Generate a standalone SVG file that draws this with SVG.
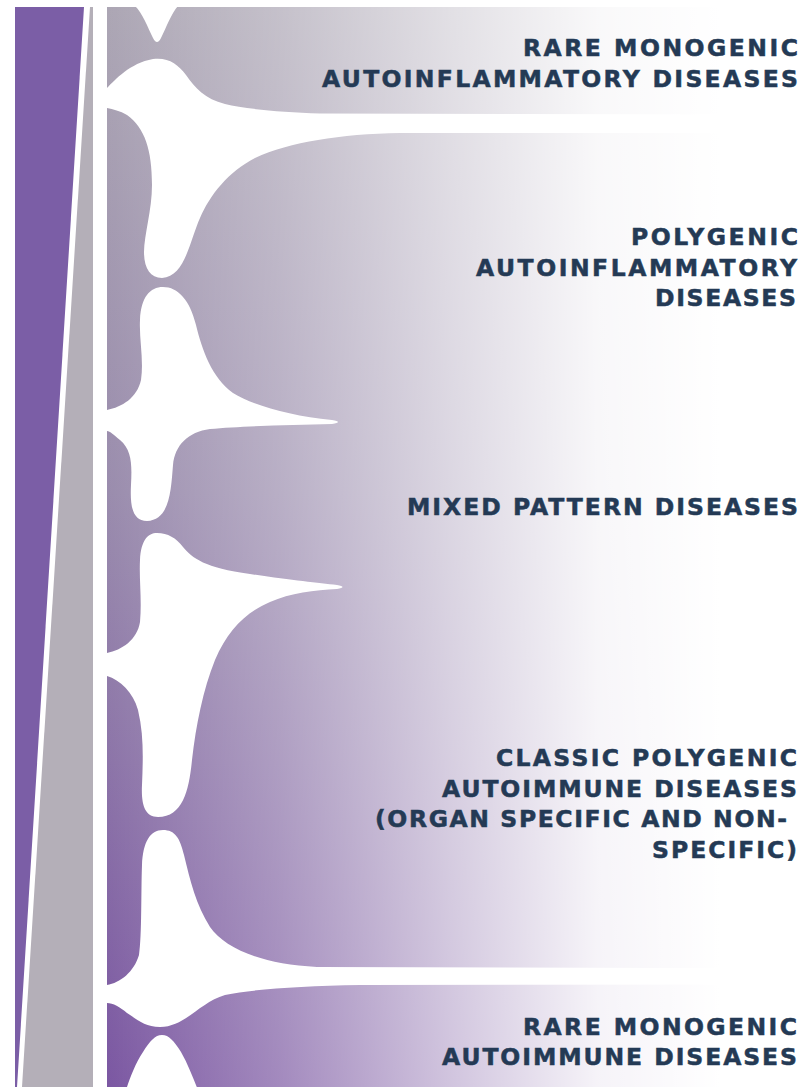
<svg xmlns="http://www.w3.org/2000/svg" width="812" height="1088" viewBox="0 0 812 1088">
<defs>
<linearGradient id="vbase" gradientUnits="userSpaceOnUse" x1="0" y1="7" x2="0" y2="1087">
<stop offset="0" stop-color="#aca6b4"/>
<stop offset="0.45" stop-color="#9a8cad"/>
<stop offset="1" stop-color="#7b57a2"/>
</linearGradient>
<linearGradient id="hfade" gradientUnits="userSpaceOnUse" x1="107" y1="0" x2="720" y2="0">
<stop offset="0" stop-color="#ffffff" stop-opacity="0"/>
<stop offset="0.28" stop-color="#ffffff" stop-opacity="0.3"/>
<stop offset="0.56" stop-color="#ffffff" stop-opacity="0.65"/>
<stop offset="0.8" stop-color="#ffffff" stop-opacity="0.93"/>
<stop offset="1" stop-color="#ffffff" stop-opacity="1"/>
</linearGradient>
<style>
.lbl{font-family:"DejaVu Sans","Liberation Sans",sans-serif;font-weight:bold;font-size:23.5px;fill:#243a55;stroke:#243a55;stroke-width:0.5px;}
.gap{fill:#ffffff;}
</style>
</defs>
<rect width="812" height="1088" fill="#ffffff"/>
<g id="scale-bars">
<polygon points="15,7 84,7 17,1087 15,1087" fill="#7b5ea6"/>
<polygon points="90,7 93,7 93,1087 22,1087" fill="#b4afb8"/>
</g>
<g id="spectrum">
<rect x="107" y="7" width="705" height="1080" fill="url(#vbase)"/>
<rect x="107" y="7" width="705" height="1080" fill="url(#hfade)"/>
<path class="gap" d="M135,6 C142,12 148,28 153,38 Q157,46 161,38 C166,28 172,12 178,6 Z"/>
<path class="gap" d="M100,88 L107,88 C115,80 130,63 153,59 C168,57 178,64 186,75 C195,88 205,99 225,104 C245,109 280,112 320,113.5 L812,114.5 L812,133 L400,133 C340,134 290,142 255,158 C228,172 210,195 200,218 C190,240 185,277 162,278 C150,278 144,268 144,252 C144,235 152,210 152,185 C152,150 145,128 127,115 C120,111 113,109 107,108 L100,108 Z"/>
<path class="gap" d="M163,287 C178,287 190,300 196,325 C202,350 212,378 233,393 C252,405 290,416 332,420 Q344,422 332,424 C290,425 240,426 210,429 C188,432 175,445 173,465 C171,490 170,520 147,521 C132,521 130,505 131,485 C132,465 132,450 120,440 C114,435 110,431 107,431 L100,431 L100,410 L107,410 C122,407 137,398 141,380 C144,360 139,340 140,320 C141,297 150,287 163,287 Z"/>
<path class="gap" d="M157,533 C168,533 176,538 183,547 C192,558 205,568 250,574 C290,580 318,583 337,585 Q348,587 337,589 C315,590 290,593 270,602 C245,613 228,630 215,660 C203,690 196,725 192,760 C189,790 183,817 158,817 C145,817 141,805 142,785 C143,760 144,735 138,710 C133,692 120,680 107,676 L100,676 L100,653 L107,653 C122,650 137,640 140,622 C142,600 139,580 140,560 C141,540 148,533 157,533 Z"/>
<path class="gap" d="M163,830 C175,830 180,838 184,855 C190,880 196,905 210,927 C225,948 260,964 317,967 L812,968.5 L812,984.5 L360,985 C300,986 255,989 225,995 C200,1002 185,1027 160,1027 C145,1027 138,1020 127,1013 C120,1007 113,1003 107,1003 L100,1003 L100,985 L107,985 C120,983 134,972 139,955 C142,935 141,890 142,865 C143,842 150,830 163,830 Z"/>
<path class="gap" d="M126,1090 C130,1078 135,1064 143,1052 C150,1041 155,1035 162,1035 C169,1035 174,1041 181,1052 C188,1064 193,1078 198,1090 Z"/>
</g>
<g id="rare-monogenic-autoinflammatory">
<text class="lbl" x="523" y="56" textLength="275" lengthAdjust="spacing">RARE MONOGENIC</text>
<text class="lbl" x="322" y="87" textLength="476" lengthAdjust="spacing">AUTOINFLAMMATORY DISEASES</text>
</g>
<g id="polygenic-autoinflammatory">
<text class="lbl" x="631" y="245" textLength="167" lengthAdjust="spacing">POLYGENIC</text>
<text class="lbl" x="476" y="276" textLength="321" lengthAdjust="spacing">AUTOINFLAMMATORY</text>
<text class="lbl" x="655" y="306" textLength="141" lengthAdjust="spacing">DISEASES</text>
</g>
<g id="mixed-pattern">
<text class="lbl" x="407" y="515" textLength="391" lengthAdjust="spacing">MIXED PATTERN DISEASES</text>
</g>
<g id="classic-polygenic-autoimmune">
<text class="lbl" x="496" y="766" textLength="301" lengthAdjust="spacing">CLASSIC POLYGENIC</text>
<text class="lbl" x="442" y="797" textLength="355" lengthAdjust="spacing">AUTOIMMUNE DISEASES</text>
<text class="lbl" x="375" y="827" textLength="412" lengthAdjust="spacing">(ORGAN SPECIFIC AND NON-</text>
<text class="lbl" x="652" y="858" textLength="145" lengthAdjust="spacing">SPECIFIC)</text>
</g>
<g id="rare-monogenic-autoimmune">
<text class="lbl" x="523" y="1035" textLength="274" lengthAdjust="spacing">RARE MONOGENIC</text>
<text class="lbl" x="442" y="1065" textLength="355" lengthAdjust="spacing">AUTOIMMUNE DISEASES</text>
</g>
</svg>
